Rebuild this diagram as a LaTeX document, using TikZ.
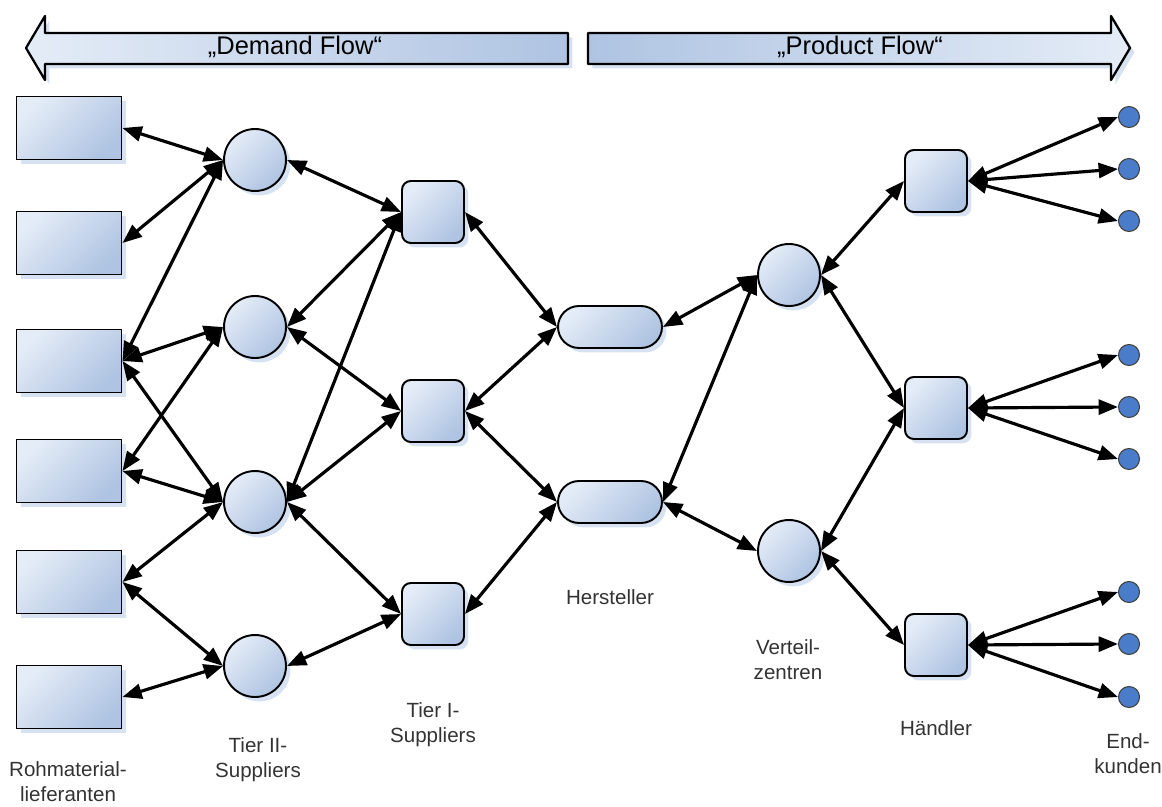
\documentclass[tikz,border=0pt]{standalone}
\usepackage{fontspec}
\setmainfont{Liberation Sans}
\usetikzlibrary{arrows.meta,shadows,shapes.misc}

\definecolor{liteblue}{HTML}{E4ECF7}
\definecolor{deepblue}{HTML}{AFC4E2}
\definecolor{shadeblue}{HTML}{D6E2F2}
\definecolor{custblue}{HTML}{4A7CC9}
\definecolor{labelgray}{HTML}{333333}

\tikzset{
  body/.style={draw=black, line width=1.1pt, inner sep=0pt,
    top color=liteblue, bottom color=deepblue, shading angle=45,
    drop shadow={shadow xshift=2.5pt, shadow yshift=-2.5pt, fill=shadeblue, opacity=1}},
  rawbox/.style={body, rectangle, minimum width=2.1cm, minimum height=1.26cm},
  hub/.style={body, circle, minimum size=1.24cm},
  tierbox/.style={body, rectangle, rounded corners=5pt, minimum size=1.24cm},
  plant/.style={body, rounded rectangle, minimum width=2.08cm, minimum height=0.84cm},
  cust/.style={circle, draw=black!75, line width=0.6pt, fill=custblue, minimum size=0.42cm, inner sep=0pt},
  link/.style={line width=1.8pt, <->},
  banner/.style={draw=black, line width=1.3pt, line join=round,
    drop shadow={shadow xshift=2.5pt, shadow yshift=-2.5pt, fill=shadeblue, opacity=1}},
  bannertext/.style={font=\fontsize{14.5}{16}\selectfont},
  caption/.style={align=center, text=labelgray, font=\fontsize{11.7}{14.2}\selectfont}
}

\begin{document}
\begin{tikzpicture}[x=0.02cm, y=-0.02cm, >={Triangle[length=11pt,width=8.5pt]}]
\useasboundingbox (0,0) rectangle (1162,807);

% flow banners
\path[banner, left color=liteblue, right color=deepblue]
  (26,48) -- (45,16) -- (45,33) -- (568,33) -- (568,64) -- (45,64) -- (45,80) -- cycle;
\path[banner, left color=deepblue, right color=liteblue]
  (588,33) -- (1111,33) -- (1111,16) -- (1130,48) -- (1111,80) -- (1111,64) -- (588,64) -- cycle;
\node[bannertext] (demand) at (295,47) {„Demand Flow“};
\node[bannertext] (product) at (860,47) {„Product Flow“};

% Rohmateriallieferanten
\node[rawbox] (raw1) at (69,128) {};
\node[rawbox] (raw2) at (69,243) {};
\node[rawbox] (raw3) at (69,361) {};
\node[rawbox] (raw4) at (69,471) {};
\node[rawbox] (raw5) at (69,582) {};
\node[rawbox] (raw6) at (69,697) {};

% Tier II
\node[hub] (t2a) at (255,160) {};
\node[hub] (t2b) at (255,327) {};
\node[hub] (t2c) at (255,502) {};
\node[hub] (t2d) at (255,666) {};

% Tier I
\node[tierbox] (t1a) at (433,212) {};
\node[tierbox] (t1b) at (433,411) {};
\node[tierbox] (t1c) at (433,614) {};

% Hersteller
\node[plant] (mfg1) at (610,327) {};
\node[plant] (mfg2) at (610,502) {};

% Verteilzentren
\node[hub] (dc1) at (789,275) {};
\node[hub] (dc2) at (789,551) {};

% Haendler
\node[tierbox] (shop1) at (936,181) {};
\node[tierbox] (shop2) at (936,408) {};
\node[tierbox] (shop3) at (936,645) {};

% Endkunden
\node[cust] (cust1) at (1129,117) {};
\node[cust] (cust2) at (1129,169) {};
\node[cust] (cust3) at (1129,221) {};
\node[cust] (cust4) at (1129,355) {};
\node[cust] (cust5) at (1129,407) {};
\node[cust] (cust6) at (1129,459) {};
\node[cust] (cust7) at (1129,592) {};
\node[cust] (cust8) at (1129,644) {};
\node[cust] (cust9) at (1129,697) {};

% connectors
\foreach \a/\b in {raw1/t2a, raw2/t2a, raw3/t2a, raw3/t2b, raw3/t2c, raw4/t2b, raw4/t2c,
    raw5/t2c, raw5/t2d, raw6/t2d,
    t2a/t1a, t2b/t1a, t2c/t1a, t2b/t1b, t2c/t1b, t2c/t1c, t2d/t1c,
    t1a/mfg1, t1b/mfg1, t1b/mfg2, t1c/mfg2,
    mfg1/dc1, mfg2/dc1, mfg2/dc2,
    dc1/shop1, dc1/shop2, dc2/shop2, dc2/shop3,
    shop1/cust1, shop1/cust2, shop1/cust3, shop2/cust4, shop2/cust5, shop2/cust6,
    shop3/cust7, shop3/cust8, shop3/cust9}
  \draw[link] (\a.east) -- (\b.west);

% captions
\node[caption] (rawlbl) at (68,782) {Rohmaterial-\\lieferanten};
\node[caption] (t2lbl) at (258,760) {Tier II-\\Suppliers};
\node[caption] (t1lbl) at (433,725) {Tier I-\\Suppliers};
\node[caption] (mfglbl) at (610,597) {Hersteller};
\node[caption] (dclbl) at (788,660) {Verteil-\\zentren};
\node[caption] (shoplbl) at (936,728) {Händler};
\node[caption] (custlbl) at (1128,754) {End-\\kunden};
\end{tikzpicture}
\end{document}
